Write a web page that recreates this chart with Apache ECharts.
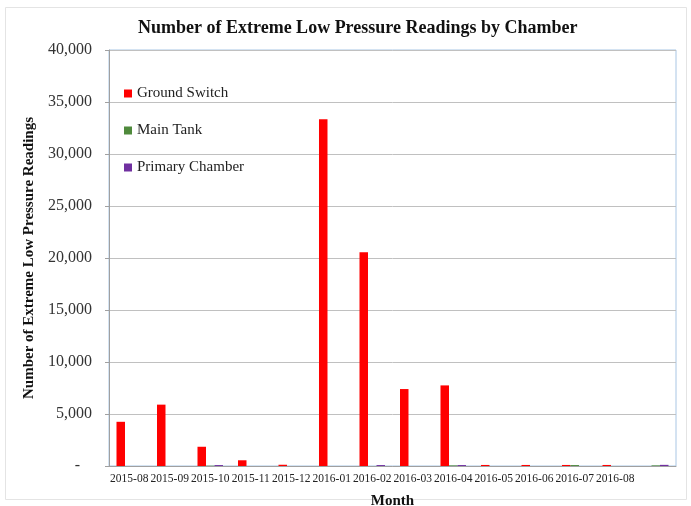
<!DOCTYPE html>
<html>
<head>
<meta charset="utf-8">
<script src="https://cdn.jsdelivr.net/npm/echarts@6/dist/echarts.min.js"></script>
<style>
  html, body { margin: 0; padding: 0; background: #fff; }
  #chart { width: 691px; height: 506px; }
</style>
</head>
<body>
<div id="chart"></div>
<script>
var months = ['2015-08','2015-09','2015-10','2015-11','2015-12','2016-01','2016-02',
              '2016-03','2016-04','2016-05','2016-06','2016-07','2016-08',''];
var groundSwitch   = [4250, 5900, 1850, 550, 120, 33350, 20550, 7400, 7750, 100, 100, 100, 100, 0];
var mainTank       = [0, 0, 30, 0, 0, 0, 0, 0, 60, 0, 0, 90, 0, 60];
var primaryChamber = [0, 0, 90, 0, 0, 0, 90, 0, 90, 0, 0, 0, 0, 110];

var serif = '"Liberation Serif", "DejaVu Serif", serif';

var myChart = echarts.init(document.getElementById('chart'));
var option = {
    backgroundColor: '#fff',
    animation: false,
    title: {
        text: 'Number of Extreme Low Pressure Readings by Chamber',
        left: 133,
        top: 14,
        textStyle: { fontFamily: serif, fontSize: 18, fontWeight: 'bold', color: '#111' }
    },
    graphic: [{
        type: 'rect',
        shape: { x: 5.5, y: 7.5, width: 681, height: 492 },
        style: { fill: 'none', stroke: '#e4e4e4', lineWidth: 1 },
        silent: true
    }],
    color: ['#ff0000', '#4f8a3c', '#7030a0'],
    legend: {
        orient: 'vertical',
        left: 124,
        top: 86,
        padding: 0,
        itemWidth: 8,
        itemHeight: 8,
        itemGap: 22,
        icon: 'rect',
        textStyle: { fontFamily: serif, fontSize: 15, color: '#222' },
        data: ['Ground Switch', 'Main Tank', 'Primary Chamber']
    },
    grid: {
        left: 109, right: 15, top: 50, bottom: 40,
        outerBoundsMode: 'none',
        show: true, borderColor: '#a9c6e4', borderWidth: 1
    },
    xAxis: [{
        type: 'category',
        data: months,
        name: 'Month',
        nameLocation: 'middle',
        nameGap: 28,
        nameTextStyle: { fontFamily: serif, fontSize: 15, fontWeight: 'bold', color: '#111' },
        axisLine: { lineStyle: { color: '#a0a0a0' } },
        axisTick: { show: false },
        axisLabel: { fontFamily: serif, fontSize: 11.5, color: '#222', margin: 7, interval: 0 }
    }],
    yAxis: [{
        type: 'value',
        min: 0, max: 40000, interval: 5000,
        name: 'Number of Extreme Low Pressure Readings',
        nameLocation: 'middle',
        nameGap: 72,
        nameTextStyle: { fontFamily: serif, fontSize: 15, fontWeight: 'bold', color: '#111' },
        axisLine: { show: true, lineStyle: { color: '#a0a0a0' } },
        axisTick: { show: true, length: 4, lineStyle: { color: '#a0a0a0' } },
        splitLine: { lineStyle: { color: '#c0c0c0' } },
        axisLabel: {
            fontFamily: serif, fontSize: 16, color: '#333', margin: 17,
            formatter: function (v) {
                return v === 0 ? '-   ' : v.toLocaleString('en-US');
            }
        }
    }],
    series: [
        { name: 'Ground Switch', type: 'bar', data: groundSwitch, barGap: '0%', barCategoryGap: '37%' },
        { name: 'Main Tank', type: 'bar', data: mainTank, barGap: '0%', barCategoryGap: '37%' },
        { name: 'Primary Chamber', type: 'bar', data: primaryChamber, barGap: '0%', barCategoryGap: '37%' }
    ]
};
myChart.setOption(option);
</script>
</body>
</html>
